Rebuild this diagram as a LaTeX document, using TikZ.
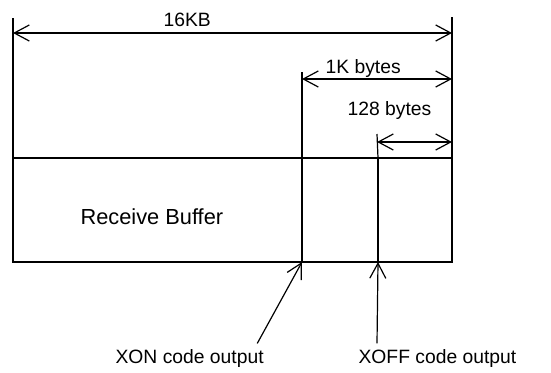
\documentclass[tikz,border=0pt]{standalone}
\usepackage{fontspec}
\setmainfont{Liberation Sans}
\usetikzlibrary{arrows.meta, positioning, calc}

\begin{document}
\begin{tikzpicture}[x=1pt, y=-1pt, line width=1.2pt,
  dim/.style={{Straight Barb[length=15pt, width=16pt]}-{Straight Barb[length=15pt, width=16pt]}},
  ptr/.style={-{Straight Barb[length=15pt, width=16pt]}},
  lbl/.style={font=\fontsize{19.3}{23}\selectfont, inner sep=0pt, anchor=base west}]
  \useasboundingbox (0,0) rectangle (551,372);

  % buffer and its parts
  \coordinate (bufNW) at (13,158);
  \coordinate (bufSE) at (452,262);
  \coordinate (xonS) at (302,262);
  \coordinate (xoffS) at (378,262);
  \draw[line width=1.5pt] (bufNW) rectangle (bufSE);
  \draw (xonS) -- (302,158);
  \draw (xoffS) -- (378,158);
  \draw[line width=2.4pt] (xoffS) -- (bufSE) -- (452,158);
  \node[lbl, font=\fontsize{21.8}{26}\selectfont] (buf) at (80,224) {Receive Buffer};

  % extension lines
  \draw (bufNW) -- (13,18);
  \draw (452,158) -- (452,17);
  \draw (302,158) -- (302,72);
  \draw (378,158) -- (377,134);

  % sizes
  \coordinate (allL) at (13,33);
  \coordinate (allR) at (452,33);
  \coordinate (onL) at (302,79);
  \coordinate (onR) at (452,79);
  \coordinate (offL) at (377,142);
  \coordinate (offR) at (452,142);
  \draw[dim] (allL) -- (allR);
  \draw[dim] (onL) -- (onR);
  \draw[dim] (offL) -- (offR);
  \node[lbl] (all) at (163,27) {16KB};
  \node[lbl] (on) at (325,73) {1K bytes};
  \node[lbl] (off) at (347,115) {128 bytes};

  % outputs
  \node[lbl] (xon) at (115,363) {XON code output};
  \node[lbl] (xoff) at (358,363) {XOFF code output};
  \draw[ptr] ($(xon.north east)+(-7,-5)$) -- (xonS);
  \draw[ptr] ($(xoff.north west)+(19,-5)$) -- (xoffS);
\end{tikzpicture}
\end{document}
